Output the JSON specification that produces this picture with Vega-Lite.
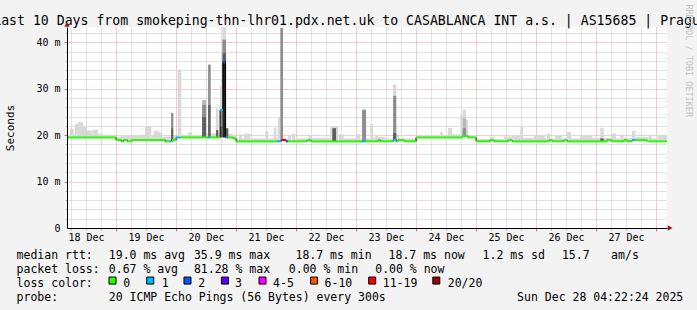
{
  "$schema": "https://vega.github.io/schema/vega-lite/v6.json",
  "width": 600,
  "height": 201,
  "autosize": {"type": "none"},
  "padding": {"left": 67, "top": 27, "right": 30, "bottom": 82},
  "background": "#f3f3f3",
  "config": {
    "font": "DejaVu Sans Mono",
    "view": {"fill": "#ffffff", "stroke": null},
    "axis": {"labelFont": "DejaVu Sans Mono", "titleFont": "DejaVu Sans Mono", "labelColor": "#000000", "titleColor": "#000000", "labelFontSize": 10, "titleFontWeight": "normal"}
  },
  "datasets": {
    "smoke": [
      {"h1":4.37,"h2":5.57,"lo":19.5,"hi":19.9,"s":1},
      {"h1":5.57,"h2":7.05,"lo":19.5,"hi":21.4,"s":1},
      {"h1":7.05,"h2":7.45,"lo":19.5,"hi":20.2,"s":1},
      {"h1":7.45,"h2":8.77,"lo":19.5,"hi":22.4,"s":1},
      {"h1":8.77,"h2":10.77,"lo":19.5,"hi":22.8,"s":1},
      {"h1":10.77,"h2":12.37,"lo":19.5,"hi":21.9,"s":1},
      {"h1":12.37,"h2":14.65,"lo":19.5,"hi":21.0,"s":1},
      {"h1":14.65,"h2":16.77,"lo":19.5,"hi":21.2,"s":1},
      {"h1":16.77,"h2":18.77,"lo":19.5,"hi":20.3,"s":1},
      {"h1":18.77,"h2":24.0,"lo":19.5,"hi":20.1,"s":1},
      {"h1":24.0,"h2":26.0,"lo":18.95,"hi":19.6,"s":1},
      {"h1":26.0,"h2":28.8,"lo":18.95,"hi":19.8,"s":1},
      {"h1":28.8,"h2":35.6,"lo":18.95,"hi":19.9,"s":1},
      {"h1":35.6,"h2":38.1,"lo":18.95,"hi":22.0,"s":1},
      {"h1":38.1,"h2":39.1,"lo":18.95,"hi":20.0,"s":1},
      {"h1":39.1,"h2":41.1,"lo":18.95,"hi":20.9,"s":1},
      {"h1":41.1,"h2":42.4,"lo":18.95,"hi":20.6,"s":1},
      {"h1":42.4,"h2":46.0,"lo":18.7,"hi":19.7,"s":1},
      {"h1":46.0,"h2":46.9,"lo":21.5,"hi":24.8,"s":3},
      {"h1":46.0,"h2":46.9,"lo":18.7,"hi":21.5,"s":4},
      {"h1":46.9,"h2":48.0,"lo":18.95,"hi":19.8,"s":1},
      {"h1":48.65,"h2":50.1,"lo":19.5,"hi":34.1,"s":1},
      {"h1":50.1,"h2":52.8,"lo":19.5,"hi":20.0,"s":1},
      {"h1":52.8,"h2":54.4,"lo":19.5,"hi":20.6,"s":1},
      {"h1":54.4,"h2":58.4,"lo":19.5,"hi":19.9,"s":1},
      {"h1":58.4,"h2":60.0,"lo":19.5,"hi":24.0,"s":4},
      {"h1":58.4,"h2":60.0,"lo":24.0,"hi":26.6,"s":3},
      {"h1":58.4,"h2":60.0,"lo":26.6,"hi":27.6,"s":2},
      {"h1":60.0,"h2":60.8,"lo":19.5,"hi":20.5,"s":1},
      {"h1":60.8,"h2":61.85,"lo":19.5,"hi":26.6,"s":4},
      {"h1":60.8,"h2":61.85,"lo":26.6,"hi":35.2,"s":3},
      {"h1":61.85,"h2":64.0,"lo":19.5,"hi":20.4,"s":1},
      {"h1":64.0,"h2":64.9,"lo":21.1,"hi":25.8,"s":1},
      {"h1":64.0,"h2":64.9,"lo":19.5,"hi":21.1,"s":4},
      {"h1":64.9,"h2":65.6,"lo":19.5,"hi":20.4,"s":1},
      {"h1":65.6,"h2":66.5,"lo":25.5,"hi":30.6,"s":1},
      {"h1":65.6,"h2":66.5,"lo":21.9,"hi":25.5,"s":3},
      {"h1":65.6,"h2":66.5,"lo":19.5,"hi":21.9,"s":4},
      {"h1":66.5,"h2":68.0,"lo":19.5,"hi":35.5,"s":5},
      {"h1":66.5,"h2":68.0,"lo":35.5,"hi":37.7,"s":4},
      {"h1":66.5,"h2":68.0,"lo":37.7,"hi":40.6,"s":3},
      {"h1":66.5,"h2":68.0,"lo":40.6,"hi":43.2,"s":1},
      {"h1":68.0,"h2":68.9,"lo":19.5,"hi":21.5,"s":4},
      {"h1":68.9,"h2":70.8,"lo":19.5,"hi":20.3,"s":1},
      {"h1":70.8,"h2":72.0,"lo":19.3,"hi":19.8,"s":1},
      {"h1":72.0,"h2":73.1,"lo":18.7,"hi":19.0,"s":1},
      {"h1":73.1,"h2":74.4,"lo":18.7,"hi":20.2,"s":1},
      {"h1":74.4,"h2":75.05,"lo":18.7,"hi":19.3,"s":1},
      {"h1":75.05,"h2":77.7,"lo":18.7,"hi":20.3,"s":1},
      {"h1":77.7,"h2":83.7,"lo":18.7,"hi":19.3,"s":1},
      {"h1":83.7,"h2":84.8,"lo":18.7,"hi":20.9,"s":1},
      {"h1":84.8,"h2":87.05,"lo":18.7,"hi":19.3,"s":1},
      {"h1":87.05,"h2":88.1,"lo":18.7,"hi":21.6,"s":1},
      {"h1":88.1,"h2":88.65,"lo":18.7,"hi":19.5,"s":1},
      {"h1":88.65,"h2":89.7,"lo":18.7,"hi":23.7,"s":1},
      {"h1":89.7,"h2":90.8,"lo":18.7,"hi":43.1,"s":3},
      {"h1":90.8,"h2":92.8,"lo":18.7,"hi":19.3,"s":1},
      {"h1":92.8,"h2":94.1,"lo":18.7,"hi":20.0,"s":1},
      {"h1":94.4,"h2":95.7,"lo":18.7,"hi":20.3,"s":1},
      {"h1":95.7,"h2":101.05,"lo":18.7,"hi":19.3,"s":1},
      {"h1":101.05,"h2":102.4,"lo":18.7,"hi":20.0,"s":1},
      {"h1":102.4,"h2":109.7,"lo":18.7,"hi":19.4,"s":1},
      {"h1":109.7,"h2":112.8,"lo":18.7,"hi":21.9,"s":1},
      {"h1":110.5,"h2":112.0,"lo":18.7,"hi":21.5,"s":4},
      {"h1":113.05,"h2":115.05,"lo":18.7,"hi":20.2,"s":1},
      {"h1":115.05,"h2":120.0,"lo":18.7,"hi":19.3,"s":1},
      {"h1":120.0,"h2":121.7,"lo":18.7,"hi":20.2,"s":1},
      {"h1":121.7,"h2":122.4,"lo":18.7,"hi":19.3,"s":1},
      {"h1":122.4,"h2":124.0,"lo":18.7,"hi":25.5,"s":3},
      {"h1":124.0,"h2":125.7,"lo":18.7,"hi":19.3,"s":1},
      {"h1":125.7,"h2":126.8,"lo":18.7,"hi":22.4,"s":1},
      {"h1":126.8,"h2":127.7,"lo":18.7,"hi":19.5,"s":1},
      {"h1":127.7,"h2":128.8,"lo":18.7,"hi":19.9,"s":1},
      {"h1":128.8,"h2":131.7,"lo":18.7,"hi":19.6,"s":1},
      {"h1":131.7,"h2":134.8,"lo":18.7,"hi":19.3,"s":1},
      {"h1":134.8,"h2":136.1,"lo":28.5,"hi":30.9,"s":1},
      {"h1":134.8,"h2":136.1,"lo":20.5,"hi":28.5,"s":3},
      {"h1":134.8,"h2":136.1,"lo":18.7,"hi":20.5,"s":4},
      {"h1":136.1,"h2":137.2,"lo":18.7,"hi":20.2,"s":1},
      {"h1":137.2,"h2":144.0,"lo":18.7,"hi":19.3,"s":1},
      {"h1":144.0,"h2":153.7,"lo":19.5,"hi":19.9,"s":1},
      {"h1":153.7,"h2":154.65,"lo":19.5,"hi":20.7,"s":1},
      {"h1":154.65,"h2":156.8,"lo":19.5,"hi":20.0,"s":1},
      {"h1":156.8,"h2":158.4,"lo":19.5,"hi":21.6,"s":1},
      {"h1":158.4,"h2":161.7,"lo":19.5,"hi":20.2,"s":1},
      {"h1":161.7,"h2":162.65,"lo":19.5,"hi":24.4,"s":1},
      {"h1":162.65,"h2":164.0,"lo":19.8,"hi":25.5,"s":1},
      {"h1":162.65,"h2":164.0,"lo":19.8,"hi":23.7,"s":2},
      {"h1":162.65,"h2":164.0,"lo":19.8,"hi":21.5,"s":3},
      {"h1":164.0,"h2":164.8,"lo":19.5,"hi":23.3,"s":1},
      {"h1":164.8,"h2":168.0,"lo":19.5,"hi":20.0,"s":1},
      {"h1":168.0,"h2":173.6,"lo":18.7,"hi":19.2,"s":1},
      {"h1":173.6,"h2":175.2,"lo":18.7,"hi":19.6,"s":1},
      {"h1":175.2,"h2":179.2,"lo":18.7,"hi":19.2,"s":1},
      {"h1":179.2,"h2":182.4,"lo":18.7,"hi":19.7,"s":1},
      {"h1":182.4,"h2":185.7,"lo":18.7,"hi":20.0,"s":1},
      {"h1":185.7,"h2":186.8,"lo":18.7,"hi":22.0,"s":1},
      {"h1":186.8,"h2":191.05,"lo":18.7,"hi":19.4,"s":1},
      {"h1":191.05,"h2":195.6,"lo":18.7,"hi":19.9,"s":1},
      {"h1":195.6,"h2":196.4,"lo":18.7,"hi":19.3,"s":1},
      {"h1":196.4,"h2":197.6,"lo":18.7,"hi":20.3,"s":1},
      {"h1":197.6,"h2":199.6,"lo":18.7,"hi":19.3,"s":1},
      {"h1":199.6,"h2":202.4,"lo":18.7,"hi":20.0,"s":1},
      {"h1":202.4,"h2":204.4,"lo":18.7,"hi":19.3,"s":1},
      {"h1":204.4,"h2":206.1,"lo":18.7,"hi":20.7,"s":1},
      {"h1":206.1,"h2":209.6,"lo":18.7,"hi":19.3,"s":1},
      {"h1":209.6,"h2":214.4,"lo":18.7,"hi":19.9,"s":1},
      {"h1":214.4,"h2":217.7,"lo":18.7,"hi":19.4,"s":1},
      {"h1":217.7,"h2":219.05,"lo":18.7,"hi":21.6,"s":1},
      {"h1":217.7,"h2":219.05,"lo":18.7,"hi":19.3,"s":4},
      {"h1":219.05,"h2":222.4,"lo":18.7,"hi":19.4,"s":1},
      {"h1":222.4,"h2":224.0,"lo":18.7,"hi":20.4,"s":1},
      {"h1":224.0,"h2":225.7,"lo":18.7,"hi":19.3,"s":1},
      {"h1":225.7,"h2":227.05,"lo":18.7,"hi":20.1,"s":1},
      {"h1":227.05,"h2":230.4,"lo":18.7,"hi":19.4,"s":1},
      {"h1":230.4,"h2":231.7,"lo":18.7,"hi":20.9,"s":1},
      {"h1":231.7,"h2":237.05,"lo":18.95,"hi":19.6,"s":1},
      {"h1":237.05,"h2":238.4,"lo":18.7,"hi":20.0,"s":1},
      {"h1":238.4,"h2":240.8,"lo":18.7,"hi":19.3,"s":1},
      {"h1":240.8,"h2":244.37,"lo":18.7,"hi":20.0,"s":1}
    ],
    "median": [
      {"h1":4.37,"h2":24.0,"v":19.5,"c":"0"},
      {"h1":24.0,"h2":26.1,"v":18.95,"c":"0"},
      {"h1":26.1,"h2":27.05,"v":18.66,"c":"0"},
      {"h1":27.05,"h2":28.5,"v":18.95,"c":"0"},
      {"h1":28.5,"h2":30.0,"v":18.66,"c":"0"},
      {"h1":30.0,"h2":43.7,"v":18.95,"c":"0"},
      {"h1":43.7,"h2":45.7,"v":18.66,"c":"0"},
      {"h1":45.7,"h2":46.4,"v":18.66,"c":"1"},
      {"h1":46.4,"h2":48.0,"v":18.95,"c":"0"},
      {"h1":48.0,"h2":49.7,"v":19.5,"c":"1"},
      {"h1":49.7,"h2":60.65,"v":19.5,"c":"0"},
      {"h1":60.65,"h2":61.45,"v":19.5,"c":"1"},
      {"h1":61.45,"h2":65.6,"v":19.5,"c":"0"},
      {"h1":65.6,"h2":66.8,"v":25.4,"c":"1"},
      {"h1":66.8,"h2":67.7,"v":35.9,"c":"2"},
      {"h1":67.7,"h2":68.7,"v":19.5,"c":"1"},
      {"h1":68.7,"h2":70.8,"v":19.5,"c":"0"},
      {"h1":70.8,"h2":72.0,"v":19.3,"c":"0"},
      {"h1":72.0,"h2":88.4,"v":18.66,"c":"0"},
      {"h1":88.4,"h2":90.0,"v":18.66,"c":"1"},
      {"h1":90.0,"h2":92.0,"v":18.95,"c":"11-19"},
      {"h1":92.0,"h2":92.8,"v":18.66,"c":"2"},
      {"h1":92.8,"h2":100.4,"v":18.66,"c":"0"},
      {"h1":100.4,"h2":102.0,"v":18.95,"c":"0"},
      {"h1":102.0,"h2":122.4,"v":18.66,"c":"0"},
      {"h1":122.4,"h2":123.7,"v":18.66,"c":"1"},
      {"h1":123.7,"h2":128.8,"v":18.66,"c":"0"},
      {"h1":128.8,"h2":129.7,"v":18.95,"c":"0"},
      {"h1":129.7,"h2":134.8,"v":18.66,"c":"0"},
      {"h1":134.8,"h2":136.1,"v":18.95,"c":"1"},
      {"h1":136.1,"h2":136.8,"v":18.66,"c":"0"},
      {"h1":136.8,"h2":139.2,"v":18.95,"c":"0"},
      {"h1":139.2,"h2":144.0,"v":18.66,"c":"0"},
      {"h1":144.0,"h2":162.4,"v":19.5,"c":"0"},
      {"h1":162.4,"h2":164.8,"v":19.8,"c":"0"},
      {"h1":164.8,"h2":168.0,"v":19.5,"c":"0"},
      {"h1":168.0,"h2":173.6,"v":18.66,"c":"0"},
      {"h1":173.6,"h2":175.2,"v":18.95,"c":"0"},
      {"h1":175.2,"h2":180.8,"v":18.66,"c":"0"},
      {"h1":180.8,"h2":182.4,"v":18.95,"c":"0"},
      {"h1":182.4,"h2":197.2,"v":18.66,"c":"0"},
      {"h1":197.2,"h2":198.4,"v":18.95,"c":"0"},
      {"h1":198.4,"h2":203.2,"v":18.66,"c":"0"},
      {"h1":203.2,"h2":204.4,"v":18.95,"c":"0"},
      {"h1":204.4,"h2":220.4,"v":18.66,"c":"0"},
      {"h1":220.4,"h2":222.4,"v":18.95,"c":"0"},
      {"h1":222.4,"h2":227.2,"v":18.66,"c":"0"},
      {"h1":227.2,"h2":228.4,"v":18.95,"c":"0"},
      {"h1":228.4,"h2":230.4,"v":18.66,"c":"0"},
      {"h1":230.4,"h2":231.6,"v":18.95,"c":"1"},
      {"h1":231.6,"h2":236.4,"v":18.95,"c":"0"},
      {"h1":236.4,"h2":244.37,"v":18.66,"c":"0"}
    ],
    "arrows": [
      {"h":245.6,"v":0,"dir":"right"},
      {"h":4.373,"v":43.85,"dir":"up"}
    ],
    "legend": [
      {"line":0,"col":0,"text":"median rtt:"},
      {"line":0,"col":13.17,"text":"19.0 ms avg"},
      {"line":0,"col":25.33,"text":"35.9 ms max"},
      {"line":0,"col":39.84,"text":"18.7 ms min"},
      {"line":0,"col":53.14,"text":"18.7 ms now"},
      {"line":0,"col":66.57,"text":"1.2 ms sd"},
      {"line":0,"col":77.9,"text":"15.7"},
      {"line":0,"col":84.93,"text":"am/s"},
      {"line":1,"col":0,"text":"packet loss:"},
      {"line":1,"col":13.17,"text":"0.67 % avg"},
      {"line":1,"col":25.33,"text":"81.28 % max"},
      {"line":1,"col":38.89,"text":"0.00 % min"},
      {"line":1,"col":51.23,"text":"0.00 % now"},
      {"line":2,"col":0,"text":"loss color:"},
      {"line":2,"col":15.24,"text":"0"},
      {"line":2,"col":20.73,"text":"1"},
      {"line":2,"col":25.96,"text":"2"},
      {"line":2,"col":31.2,"text":"3"},
      {"line":2,"col":36.64,"text":"4-5"},
      {"line":2,"col":44.0,"text":"6-10"},
      {"line":2,"col":52.31,"text":"11-19"},
      {"line":2,"col":61.59,"text":"20/20"},
      {"line":3,"col":0,"text":"probe:"},
      {"line":3,"col":13.17,"text":"20 ICMP Echo Pings (56 Bytes) every 300s"},
      {"line":3,"col":71.5,"text":"Sun Dec 28 04:22:24 2025"}
    ],
    "swatch": [
      {"line":2,"col":13.7,"loss":"0"},
      {"line":2,"col":19.09,"loss":"1"},
      {"line":2,"col":24.41,"loss":"2"},
      {"line":2,"col":29.76,"loss":"3"},
      {"line":2,"col":35.13,"loss":"4-5"},
      {"line":2,"col":42.5,"loss":"6-10"},
      {"line":2,"col":50.8,"loss":"11-19"},
      {"line":2,"col":59.96,"loss":"20/20"}
    ]
  },
  "layer": [
    {
      "layer": [
        {
          "data": {"name": "smoke"},
          "mark": {"type": "rect"},
          "encoding": {
            "x": {"field": "h1", "type": "quantitative",
              "scale": {"domain": [4.373, 244.373], "nice": false, "zero": false},
              "axis": {"orient": "bottom", "values": [6,12,18,30,36,42,54,60,66,78,84,90,102,108,114,126,132,138,150,156,162,174,180,186,198,204,210,222,228,234],
                "grid": true, "gridColor": "#c6c6c6", "gridDash": [1,1], "labels": false, "ticks": true, "tickSize": 2, "tickColor": "#b4b4b4", "domain": false, "title": null, "zindex": 0}},
            "x2": {"field": "h2"},
            "y": {"field": "lo", "type": "quantitative",
              "scale": {"domain": [0, 43.3], "nice": false, "zero": false},
              "axis": {"orient": "left", "values": [2,4,6,8,12,14,16,18,22,24,26,28,32,34,36,38,42],
                "grid": true, "gridColor": "#c6c6c6", "gridDash": [1,1], "labels": false, "ticks": true, "tickSize": 2, "tickColor": "#b4b4b4", "domain": false, "title": null, "zindex": 0}},
            "y2": {"field": "hi"},
            "color": {"field": "s", "type": "ordinal", "scale": {"domain": [1,2,3,4,5], "range": ["#d8d8d8", "#b8b8b8", "#8e8e8e", "#5e5e5e", "#262626"]}, "legend": null},
            "order": {"field": "s", "type": "quantitative"}
          }
        },
        {
          "data": {"name": "median"},
          "mark": {"type": "line", "interpolate": "step-after", "color": "#000000", "strokeWidth": 1},
          "encoding": {
            "x": {"field": "h1", "type": "quantitative",
              "scale": {"domain": [4.373, 244.373], "nice": false, "zero": false},
              "axis": {"orient": "bottom", "values": [24,48,72,96,120,144,168,192,216,240],
                "grid": true, "gridColor": "#e69c9c", "gridDash": [1,1], "labels": false, "ticks": true, "tickSize": 3, "tickColor": "#e07070", "domain": false, "title": null, "zindex": 0}},
            "y": {"field": "v", "type": "quantitative",
              "scale": {"domain": [0, 43.3], "nice": false, "zero": false},
              "axis": {"orient": "left", "values": [10,20,30,40],
                "grid": true, "gridColor": "#e69c9c", "gridDash": [1,1], "labels": false, "ticks": true, "tickSize": 3, "tickColor": "#e07070", "domain": false, "title": null, "zindex": 0}}
          }
        },
        {
          "data": {"name": "median"},
          "mark": {"type": "rule", "strokeWidth": 2},
          "encoding": {
            "x": {"field": "h1", "type": "quantitative",
              "scale": {"domain": [4.373, 244.373], "nice": false, "zero": false},
              "axis": {"orient": "bottom", "values": [12,36,60,84,108,132,156,180,204,228],
                "labelExpr": "(floor(datum.value/24)+18) + ' Dec'",
                "grid": false, "ticks": false, "labelPadding": 12, "labelBaseline": "alphabetic", "labelFontSize": 10,
                "domain": true, "domainColor": "#000000", "domainWidth": 1, "title": null, "zindex": 1}},
            "x2": {"field": "h2"},
            "y": {"field": "v", "type": "quantitative",
              "scale": {"domain": [0, 43.3], "nice": false, "zero": false},
              "axis": {"orient": "left", "values": [0,10,20,30,40],
                "labelExpr": "datum.value == 0 ? '0' : datum.value + ' m'",
                "grid": false, "ticks": false, "labelPadding": 7, "labelFontSize": 10,
                "domain": true, "domainColor": "#000000", "domainWidth": 1,
                "title": "Seconds", "titleFontSize": 11, "titleAngle": 270, "titleX": -56.5, "titleY": 100.5,
                "titleAlign": "center", "titleBaseline": "middle", "zindex": 1}},
            "color": {"field": "c", "type": "nominal",
              "scale": {"domain": ["0","1","2","3","4-5","6-10","11-19","20/20"], "range": ["#26ff00","#00b8ff","#0059ff","#5e00ff","#ff00ff","#ff5500","#ff0000","#a10000"]},
              "legend": null}
          }
        },
        {
          "data": {"name": "arrows"},
          "mark": {"type": "point", "filled": true, "size": 30, "color": "#a31515", "opacity": 1},
          "encoding": {
            "x": {"field": "h", "type": "quantitative",
              "scale": {"domain": [4.373, 244.373], "nice": false, "zero": false},
              "axis": {"orient": "top", "labels": false, "ticks": false, "domain": false, "grid": false,
                "title": "Last 10 Days from smokeping-thn-lhr01.pdx.net.uk to CASABLANCA INT a.s. | AS15685 | Prague",
                "titleFontSize": 13.2, "titleColor": "#000000", "titleX": 283, "titleY": -3,
                "titleAlign": "center", "titleBaseline": "alphabetic"}},
            "y": {"field": "v", "type": "quantitative",
              "scale": {"domain": [0, 43.3], "nice": false, "zero": false},
              "axis": {"orient": "right", "labels": false, "ticks": false, "domain": false, "grid": false,
                "title": "RRDTOOL / TOBI OETIKER", "titleColor": "#c4c4c4", "titleFontSize": 8.5, "titleAngle": 90,
                "titleX": 21, "titleY": -23, "titleAlign": "left", "titleBaseline": "middle"}},
            "shape": {"field": "dir", "type": "nominal", "scale": {"domain": ["right","up"], "range": ["triangle-right","triangle-up"]}, "legend": null}
          }
        }
      ],
      "resolve": {"axis": {"x": "independent", "y": "independent"}, "scale": {"color": "independent"}}
    },
    {
      "layer": [
        {
          "data": {"name": "legend"},
          "mark": {"type": "text", "align": "left", "baseline": "alphabetic", "fontSize": 11.5, "color": "#000000"},
          "encoding": {
            "x": {"field": "col", "type": "quantitative", "scale": {"domain": [0, 100], "range": [-50.4, 649.6]}, "axis": null},
            "y": {"field": "line", "type": "quantitative", "scale": {"domain": [0, 3], "range": [231.7, 273.5]}, "axis": null},
            "text": {"field": "text"}
          }
        },
        {
          "data": {"name": "swatch"},
          "mark": {"type": "point", "shape": "square", "filled": true, "size": 49, "stroke": "#000000", "strokeWidth": 1, "opacity": 1, "yOffset": -6},
          "encoding": {
            "x": {"field": "col", "type": "quantitative", "scale": {"domain": [0, 100], "range": [-50.4, 649.6]}, "axis": null},
            "y": {"field": "line", "type": "quantitative", "scale": {"domain": [0, 3], "range": [231.7, 273.5]}, "axis": null},
            "fill": {"field": "loss", "type": "nominal",
              "scale": {"domain": ["0","1","2","3","4-5","6-10","11-19","20/20"], "range": ["#26ff00","#00b8ff","#0059ff","#5e00ff","#ff00ff","#ff5500","#ff0000","#a10000"]},
              "legend": null}
          }
        }
      ]
    }
  ],
  "resolve": {"scale": {"x": "independent", "y": "independent", "color": "independent", "fill": "independent"}, "axis": {"x": "independent", "y": "independent"}}
}
